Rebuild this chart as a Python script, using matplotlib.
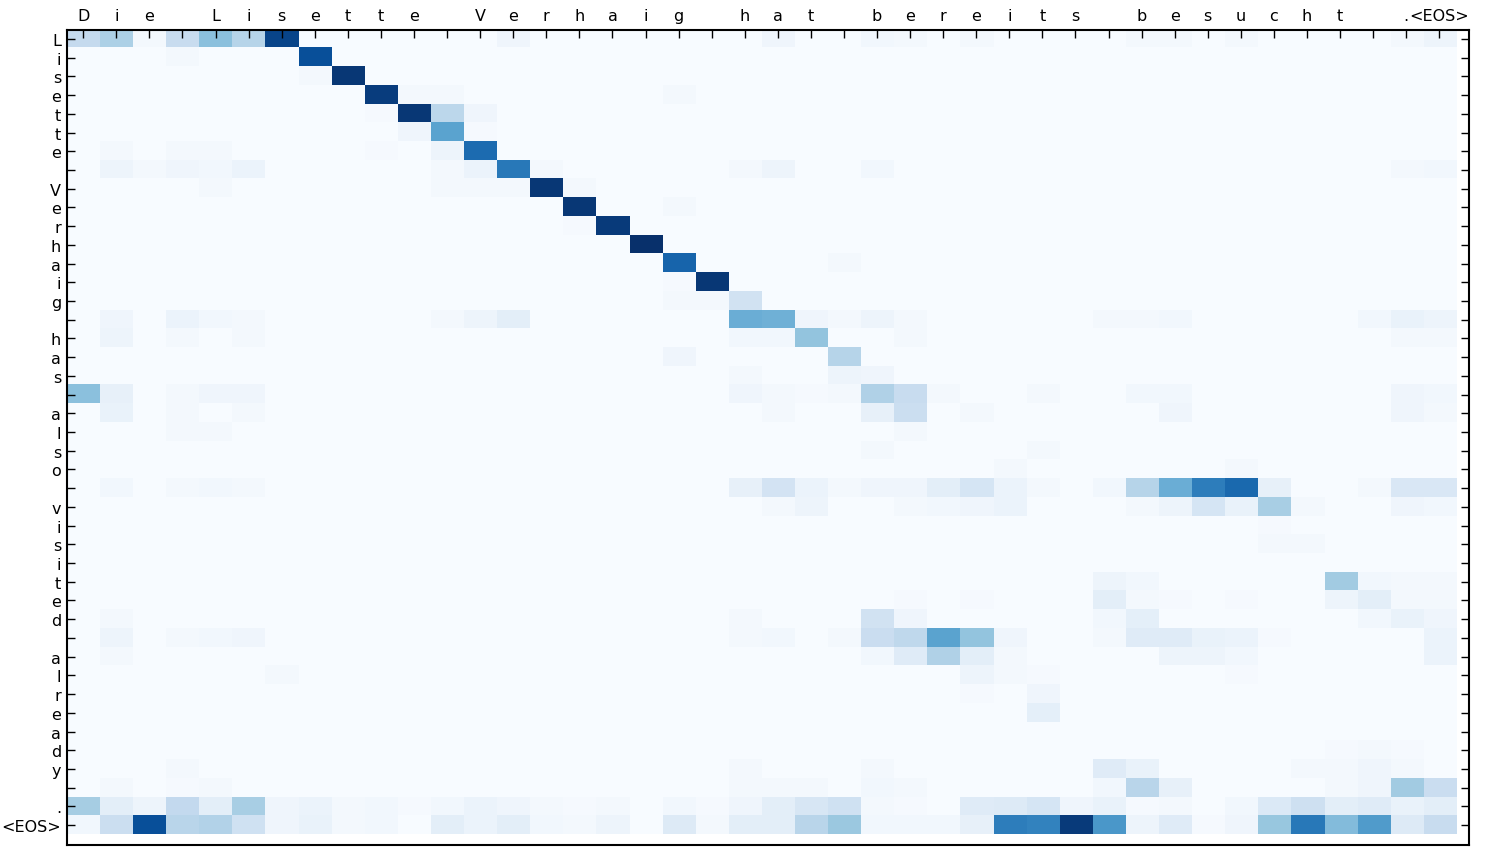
import numpy as np
import matplotlib
matplotlib.use("Agg")
import matplotlib.pyplot as plt

# tokens, one per character (espacios incluidos)
entrada = list("Die Lisette Verhaig hat bereits besucht ") + [".", "<EOS>"]
salida = list("Lisette Verhaig has also visited already ") + [".", "<EOS>"]

# pesos de atencion (en %), {columna: valor}, el resto ~0
pesos = [
    {0: 25, 1: 33, 2: 2, 3: 24, 4: 42, 5: 30, 6: 92, 13: 4, 21: 4, 24: 3, 25: 2, 27: 2, 32: 2, 33: 2, 35: 2, 40: 2, 41: 5},
    {3: 2, 7: 88},
    {7: 2, 8: 97},
    {9: 95, 10: 2, 11: 2, 18: 2},
    {9: 1, 10: 97, 11: 28, 12: 4},
    {10: 4, 11: 55, 12: 1},
    {1: 2, 3: 2, 4: 2, 9: 1, 11: 5, 12: 77},
    {1: 5, 2: 2, 3: 4, 4: 3, 5: 6, 11: 2, 12: 6, 13: 72, 14: 2, 20: 2, 21: 5, 24: 3, 40: 2, 41: 3},
    {4: 2, 11: 2, 12: 2, 13: 2, 14: 97, 15: 2},
    {15: 97, 18: 2},
    {15: 1, 16: 96},
    {17: 100},
    {18: 80, 23: 2},
    {18: 1, 19: 97},
    {18: 2, 19: 2, 20: 19},
    {1: 4, 3: 6, 4: 3, 5: 2, 11: 2, 12: 5, 13: 10, 20: 50, 21: 49, 22: 4, 23: 2, 24: 5, 25: 2, 31: 2, 32: 2, 33: 3, 39: 3, 40: 7, 41: 5},
    {1: 5, 3: 2, 5: 2, 20: 3, 21: 3, 22: 40, 25: 2, 40: 2, 41: 2},
    {18: 4, 23: 30},
    {20: 2, 23: 5, 24: 4},
    {0: 42, 1: 8, 3: 2, 4: 4, 5: 4, 20: 4, 21: 2, 22: 1, 23: 2, 24: 32, 25: 24, 26: 2, 29: 2, 32: 3, 33: 3, 40: 4, 41: 3},
    {1: 7, 3: 2, 5: 2, 21: 2, 24: 8, 25: 22, 27: 2, 33: 4, 40: 4, 41: 2},
    {3: 2, 4: 2, 25: 2},
    {24: 2, 29: 2},
    {28: 2, 35: 2},
    {1: 3, 3: 2, 4: 3, 5: 2, 20: 8, 21: 18, 22: 6, 23: 2, 24: 4, 25: 4, 26: 10, 27: 17, 28: 6, 29: 2, 31: 3,
     32: 30, 33: 50, 34: 70, 35: 78, 36: 8, 39: 2, 40: 15, 41: 15},
    {21: 2, 22: 5, 25: 2, 26: 3, 27: 4, 28: 6, 32: 2, 33: 5, 34: 17, 35: 7, 36: 34, 37: 2, 40: 4, 41: 3},
    {36: 1},
    {36: 2, 37: 2},
    {},
    {31: 5, 32: 3, 38: 36, 39: 3, 40: 2, 41: 2},
    {25: 1, 27: 1, 31: 10, 32: 2, 33: 1, 35: 1, 38: 5, 39: 10, 40: 2, 41: 2},
    {1: 2, 20: 2, 24: 19, 25: 4, 31: 3, 32: 9, 39: 3, 40: 7, 41: 4},
    {1: 5, 3: 2, 4: 3, 5: 4, 20: 2, 21: 3, 23: 2, 24: 23, 25: 27, 26: 55, 27: 40, 28: 4, 31: 2,
     32: 12, 33: 12, 34: 7, 35: 6, 36: 1, 41: 6},
    {1: 2, 24: 3, 25: 12, 26: 32, 27: 10, 28: 2, 33: 5, 34: 5, 35: 3, 41: 6},
    {6: 2, 27: 5, 28: 2, 29: 1, 35: 1},
    {27: 1, 29: 4},
    {29: 9},
    {},
    {38: 1, 39: 2, 40: 1},
    {3: 2, 20: 2, 24: 2, 31: 12, 32: 7, 37: 2, 38: 2, 39: 4, 40: 2},
    {1: 2, 3: 1, 4: 2, 20: 2, 21: 2, 22: 2, 24: 3, 25: 2, 31: 3, 32: 29, 33: 8, 38: 2, 39: 4, 40: 36, 41: 23},
    {0: 35, 1: 10, 2: 5, 3: 26, 4: 10, 5: 34, 6: 4, 7: 6, 8: 2, 9: 3, 10: 1, 11: 3, 12: 6, 13: 4, 14: 2,
     15: 1, 16: 2, 18: 3, 19: 1, 20: 4, 21: 10, 22: 16, 23: 20, 24: 2, 25: 1, 27: 12, 28: 13, 29: 17,
     30: 4, 31: 7, 32: 1, 33: 2, 35: 3, 36: 14, 37: 21, 38: 10, 39: 12, 40: 7, 41: 10},
    {0: 3, 1: 22, 2: 88, 3: 29, 4: 31, 5: 20, 6: 4, 7: 7, 8: 2, 9: 3, 11: 10, 12: 6, 13: 10, 14: 3,
     15: 2, 16: 5, 18: 13, 19: 2, 20: 10, 21: 10, 22: 29, 23: 38, 24: 3, 25: 3, 26: 3, 27: 8,
     28: 70, 29: 68, 30: 96, 31: 60, 32: 5, 33: 12, 34: 1, 35: 4, 36: 39, 37: 72, 38: 44, 39: 58,
     40: 13, 41: 24},
]

assert len(pesos) == len(salida)
atencion = np.zeros((len(salida), len(entrada)))
for i, fila in enumerate(pesos):
    for j, v in fila.items():
        atencion[i, j] = v / 100.0

fig = plt.figure(figsize=(14.86, 8.62), dpi=100)
ax = fig.add_axes([0.0449, 0.0186, 0.9437, 0.9455])
ax.imshow(atencion, cmap="Blues", vmin=0, vmax=1, aspect="auto", interpolation="nearest")

ax.set_xticks(range(len(entrada)))
ax.set_xticklabels(entrada, fontsize=11.5)
ax.set_yticks(range(len(salida)))
ax.set_yticklabels(salida, fontsize=11.5)
ax.xaxis.tick_top()
ax.tick_params(axis="x", top=True, bottom=False, direction="in", length=6, width=1, pad=5)
ax.tick_params(axis="y", left=True, right=True, direction="in", length=6, width=1, pad=4)

# los limites pasan un poco del borde de la matriz, como en el original
ax.set_xlim(-0.5, 41.9)
ax.set_ylim(43.06, -0.48)
for s in ax.spines.values():
    s.set_linewidth(1.5)

fig.savefig("out.png", dpi=100)
